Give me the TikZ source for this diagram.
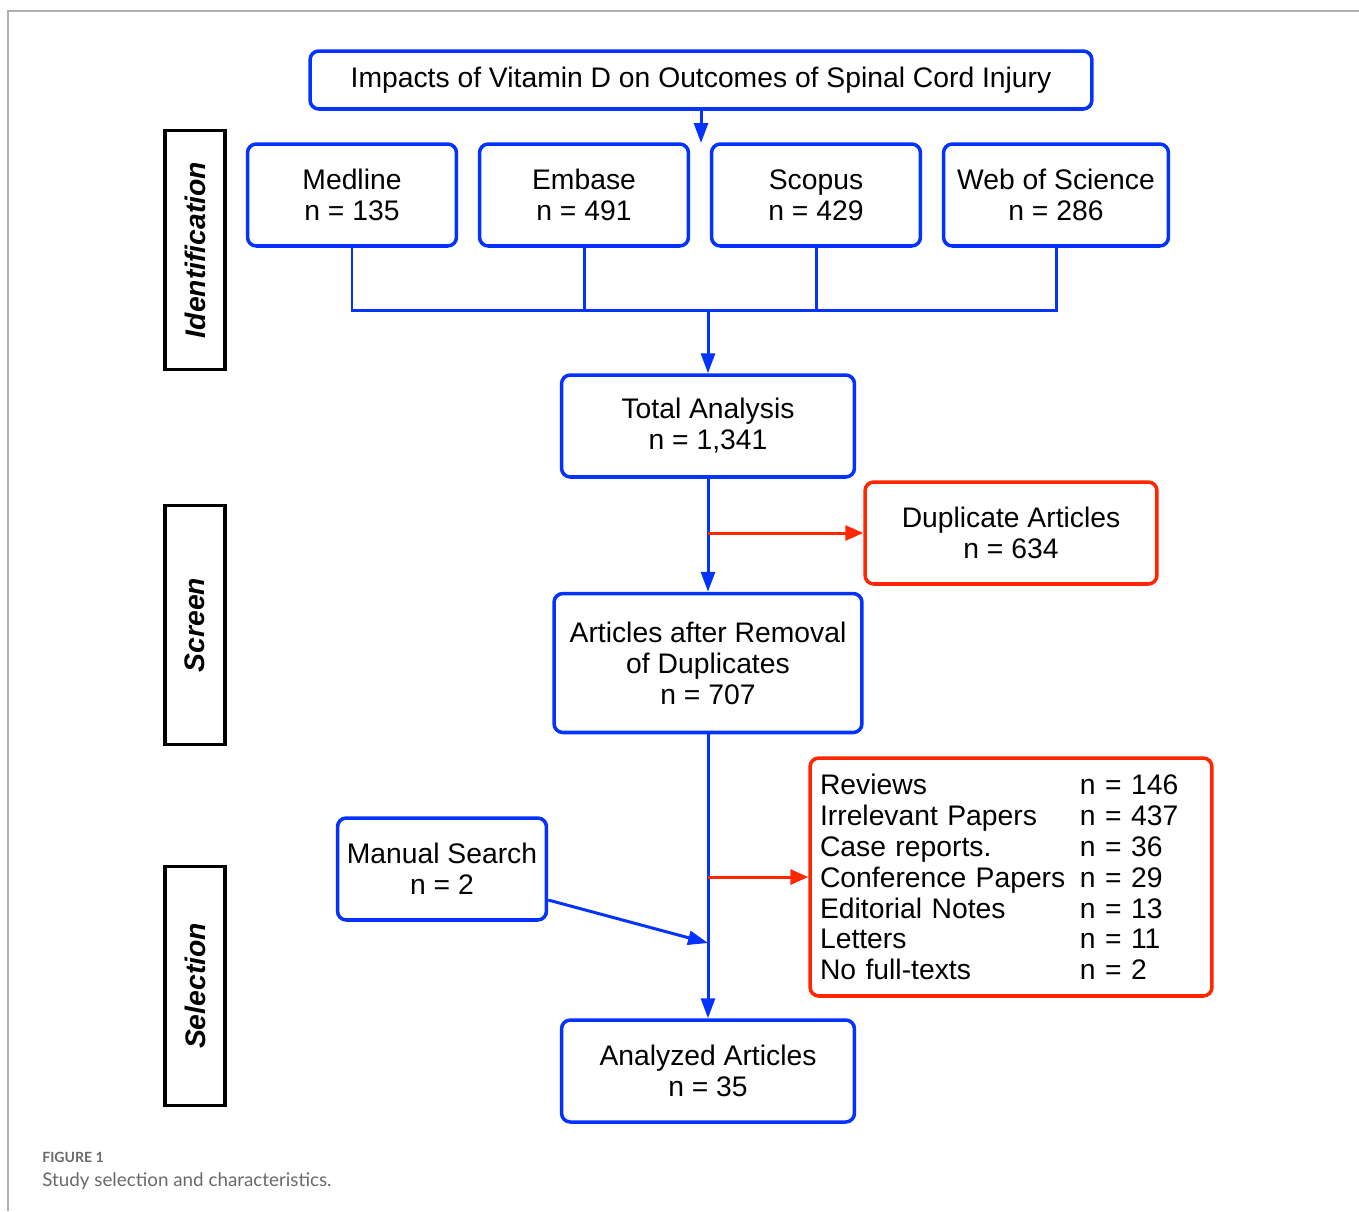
\documentclass[tikz,border=0pt]{standalone}
\usepackage{fontspec}
\setmainfont{Liberation Sans}
\newfontfamily\capfont{Lato}
\usetikzlibrary{arrows.meta, positioning, shapes}
\definecolor{flowblue}{RGB}{4,51,255}
\definecolor{flowred}{RGB}{255,38,0}
\definecolor{capgray}{RGB}{105,105,105}
\definecolor{framegray}{RGB}{175,175,175}

\begin{document}
\begin{tikzpicture}[x=0.02cm, y=-0.02cm,
    every node/.style={font=\fontsize{16.1}{17.6}\selectfont},
    bluebox/.style={draw=flowblue, line width=2pt, rounded corners=5pt, align=center, inner sep=0pt},
    redbox/.style={draw=flowred, line width=2pt, rounded corners=5pt, align=center, inner sep=0pt},
    stagebox/.style={draw=black, line width=2pt, rotate=90, minimum width=4.78cm, minimum height=1.2cm, inner sep=0pt, font=\fontsize{16.1}{17.6}\selectfont\bfseries\itshape},
    blueline/.style={draw=flowblue, line width=1.7pt},
    bluearrow/.style={blueline, -{Triangle[length=0.4cm, width=0.28cm]}},
    redarrow/.style={draw=flowred, line width=1.7pt, -{Triangle[length=0.36cm, width=0.3cm]}}
]
    \useasboundingbox (0,0) rectangle (1359,1211);
    \draw[framegray, line width=0.8pt] (1359,11) -- (8,11) -- (8,1211);

    % stages
    \node[stagebox] (ident) at (195,250) {Identification};
    \node[stagebox] (screen) at (195,625) {Screen};
    \node[stagebox] (select) at (195,986) {Selection};

    % identification
    \node[bluebox, minimum width=15.64cm, minimum height=1.16cm] (title) at (701,80) {\raisebox{-1pt}{Impacts of Vitamin D on Outcomes of Spinal Cord Injury}};
    \node[bluebox, minimum width=4.18cm, minimum height=2.04cm] (medline) at (352,195) {Medline\\n = 135};
    \node[bluebox, minimum width=4.18cm, minimum height=2.04cm] (embase) at (584,195) {Embase\\n = 491};
    \node[bluebox, minimum width=4.18cm, minimum height=2.04cm] (scopus) at (816,195) {Scopus\\n = 429};
    \node[bluebox, minimum width=4.5cm, minimum height=2.04cm] (wos) at (1056,195) {Web of Science\\n = 286};
    \coordinate (gather) at (708,310);
    \coordinate (split) at (701,143);

    \draw[bluearrow] (title.south) -- (split);
    \draw[blueline] (medline.south) |- (gather) -| (wos.south);
    \draw[blueline] (embase.south) -- (embase.south |- gather);
    \draw[blueline] (scopus.south) -- (scopus.south |- gather);

    % screen
    \node[bluebox, minimum width=5.86cm, minimum height=2.04cm] (total) at (708,426) {Total Analysis\\n = 1,341};
    \node[redbox, minimum width=5.84cm, minimum height=2.04cm] (dupl) at (1011,533) {Duplicate Articles\\n = 634};
    \node[bluebox, minimum width=6.16cm, minimum height=2.78cm] (removed) at (708,663) {Articles after Removal\\of Duplicates\\n = 707};

    \draw[bluearrow] (gather) -- (total.north);
    \draw[bluearrow] (total.south) -- (removed.north);
    \draw[redarrow] (total.south |- dupl.west) -- (dupl.west);

    % selection
    \node[redbox, minimum width=8.04cm, minimum height=4.76cm, text width=7.64cm, inner xsep=0.2cm, align=left] (excluded) at (1011,877) {%
        \makebox[5.2cm][l]{Reviews}n = 146\\
        \makebox[5.2cm][l]{Irrelevant Papers}n = 437\\
        \makebox[5.2cm][l]{Case reports.}n = 36\\
        \makebox[5.2cm][l]{Conference Papers}n = 29\\
        \makebox[5.2cm][l]{Editorial Notes}n = 13\\
        \makebox[5.2cm][l]{Letters}n = 11\\
        \makebox[5.2cm][l]{No full-texts}n = 2};
    \node[bluebox, minimum width=4.18cm, minimum height=2.04cm] (manual) at (442,869) {Manual Search\\n = 2};
    \node[bluebox, minimum width=5.86cm, minimum height=2.04cm] (analyzed) at (708,1071) {Analyzed Articles\\n = 35};

    \draw[bluearrow] (removed.south) -- (analyzed.north);
    \draw[redarrow] (removed.south |- excluded.west) -- (excluded.west);
    \draw[bluearrow] (manual.east |- 0,900) -- (removed.south |- 0,943);

    % caption
    \node[anchor=base west, inner sep=0pt, text=capgray, font=\capfont\fontsize{8}{9}\selectfont\bfseries] (fignum) at (42,1162) {FIGURE 1};
    \node[anchor=base west, inner sep=0pt, text=capgray, font=\capfont\fontsize{10.7}{12}\selectfont] (figcap) at (42,1186) {Study selection and characteristics.};
\end{tikzpicture}
\end{document}
